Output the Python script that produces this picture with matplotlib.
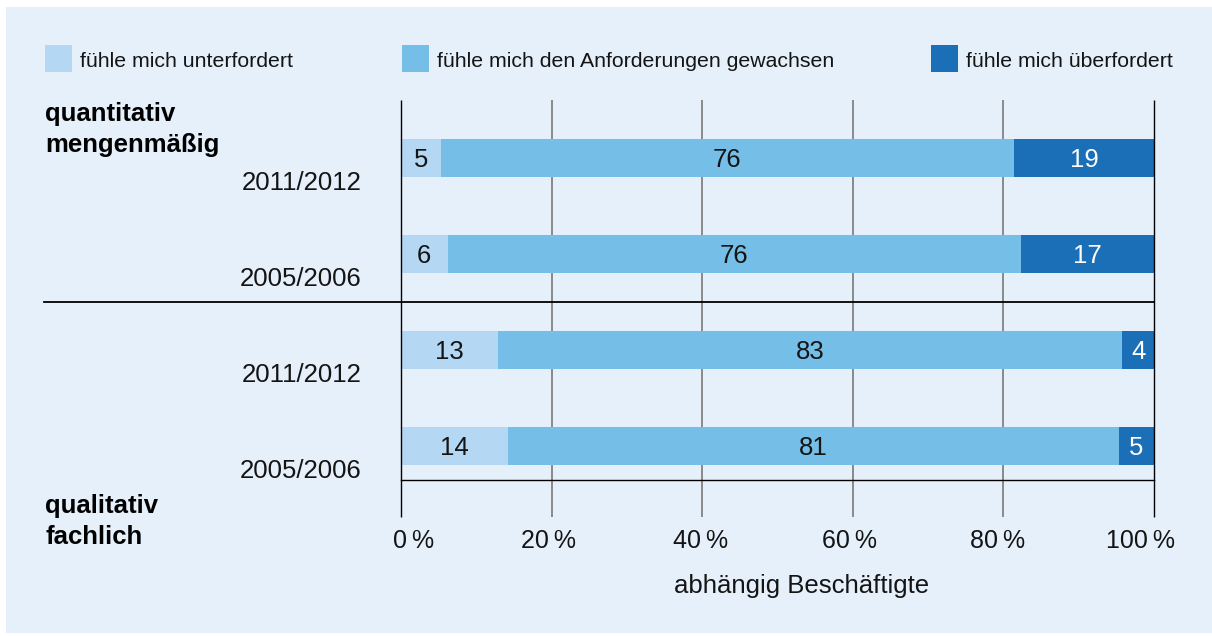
import matplotlib
matplotlib.use("Agg")
import matplotlib.pyplot as plt
from matplotlib.patches import Rectangle
import matplotlib.transforms as mtransforms

# ---- data ----
years = ["2011/2012", "2005/2006", "2011/2012", "2005/2006"]
groups = [["quantitativ", "mengenmäßig"], ["qualitativ", "fachlich"]]
series_names = ["fühle mich unterfordert",
                "fühle mich den Anforderungen gewachsen",
                "fühle mich überfordert"]
# printed values (labels)
labels_unter = [5, 6, 13, 14]
labels_gew = [76, 76, 83, 81]
labels_ueber = [19, 17, 4, 5]
# segment shares
share_unter = [5.3, 6.2, 12.9, 14.2]
share_gew = [76.1, 76.1, 82.9, 81.1]
share_ueber = [18.6, 17.7, 4.2, 4.7]
xticks = [0, 20, 40, 60, 80, 100]
xtick_labels = ["0\u2009%", "20\u2009%", "40\u2009%", "60\u2009%", "80\u2009%", "100\u2009%"]
xlabel = "abhängig Beschäftigte"

# ---- style ----
W, H = 1212, 636
BG = "#e6f0fa"
C_LIGHT = "#b4d8f3"
C_MID = "#75bee8"
C_DARK = "#1b6fb6"
GRAY = "#6e6e6e"
TXT = "#141414"
FONT = ["Liberation Sans", "DejaVu Sans"]
plt.rcParams["font.family"] = FONT

fig = plt.figure(figsize=(W / 100, H / 100), dpi=100)
fig.patch.set_facecolor("white")
fig.patches.append(Rectangle((6 / W, 3 / H), 1206 / W, (H - 10) / H,
                             transform=fig.transFigure, facecolor=BG,
                             edgecolor="none", zorder=-5))

ax = fig.add_axes([401 / W, 1 - 480 / H, 753 / W, 380 / H])
ax.set_zorder(2)
ax.set_facecolor("none")
ax.set_xlim(0, 100)
ytop, ybot = -0.604, 3.354
ax.set_ylim(ybot, ytop)
for s in ["top", "left", "right"]:
    ax.spines[s].set_visible(False)
ax.spines["bottom"].set_color("black")
ax.spines["bottom"].set_linewidth(1.0)
ax.set_xticks([])
ax.set_yticks([])

# vertical grid lines (extending below the axis)
for t in xticks:
    col = "black" if t in (0, 100) else GRAY
    z = 5 if t in (0, 100) else 0
    ax.plot([t, t], [ytop, 3.74], color=col, lw=1.0 if t in (0, 100) else 1.1,
            clip_on=False, zorder=z, solid_capstyle="butt")

# separator line between groups
ax.plot([-0.474, 1.0], [1.5, 1.5], transform=ax.get_yaxis_transform(),
        color="black", lw=1.3, clip_on=False, zorder=5)

# bars
pos = list(range(len(years)))
bh = 0.396
ax.barh(pos, share_unter, height=bh, color=C_LIGHT, zorder=2)
ax.barh(pos, share_gew, left=share_unter, height=bh, color=C_MID, zorder=2)
left3 = [a + b for a, b in zip(share_unter, share_gew)]
ax.barh(pos, share_ueber, left=left3, height=bh, color=C_DARK, zorder=2)

for i in pos:
    ax.text(share_unter[i] / 2, i + 0.02, str(labels_unter[i]), ha="center",
            va="center", fontsize=18.5, color=TXT, zorder=6)
    ax.text(share_unter[i] + share_gew[i] / 2, i + 0.02, str(labels_gew[i]),
            ha="center", va="center", fontsize=18.5, color=TXT, zorder=6)
    ax.text(left3[i] + share_ueber[i] / 2, i + 0.02, str(labels_ueber[i]),
            ha="center", va="center", fontsize=18.5, color="white", zorder=6)
    # year labels
    ax.text(-0.0518, i + 0.33, years[i], transform=ax.get_yaxis_transform(),
            ha="right", va="baseline", fontsize=18.5, color=TXT)

# tick labels
offsets_px = [13, -3, -2, -3, -6, -14]
for t, lab, off in zip(xticks, xtick_labels, offsets_px):
    tr = ax.get_xaxis_transform() + mtransforms.ScaledTranslation(
        off / 100, 0, fig.dpi_scale_trans)
    ax.text(t, -0.179, lab, transform=tr, ha="center", va="baseline",
            fontsize=18, color=TXT, clip_on=False)

# x label
fig.text(802 / W, 1 - 593 / H, xlabel, ha="center", va="baseline",
         fontsize=18.5, color=TXT)

# group labels
fig.text(45 / W, 1 - 121 / H, groups[0][0], fontsize=18.5, fontweight="bold",
         ha="left", va="baseline", color="black")
fig.text(45 / W, 1 - 152 / H, groups[0][1], fontsize=18.5, fontweight="bold",
         ha="left", va="baseline", color="black")
fig.text(45 / W, 1 - 513 / H, groups[1][0], fontsize=18.5, fontweight="bold",
         ha="left", va="baseline", color="black")
fig.text(45 / W, 1 - 544 / H, groups[1][1], fontsize=18.5, fontweight="bold",
         ha="left", va="baseline", color="black")

# legend
leg_sq_x = [45, 402, 931]
leg_colors = [C_LIGHT, C_MID, C_DARK]
for x, c, name in zip(leg_sq_x, leg_colors, series_names):
    fig.patches.append(Rectangle((x / W, 1 - 72 / H), 27 / W, 27 / H,
                                 transform=fig.transFigure, facecolor=c,
                                 edgecolor="none", zorder=1))
    fig.text((x + 35) / W, 1 - 67 / H, name, fontsize=15.3, ha="left",
             va="baseline", color=TXT)

fig.savefig("out.png", dpi=100, facecolor=fig.get_facecolor())
